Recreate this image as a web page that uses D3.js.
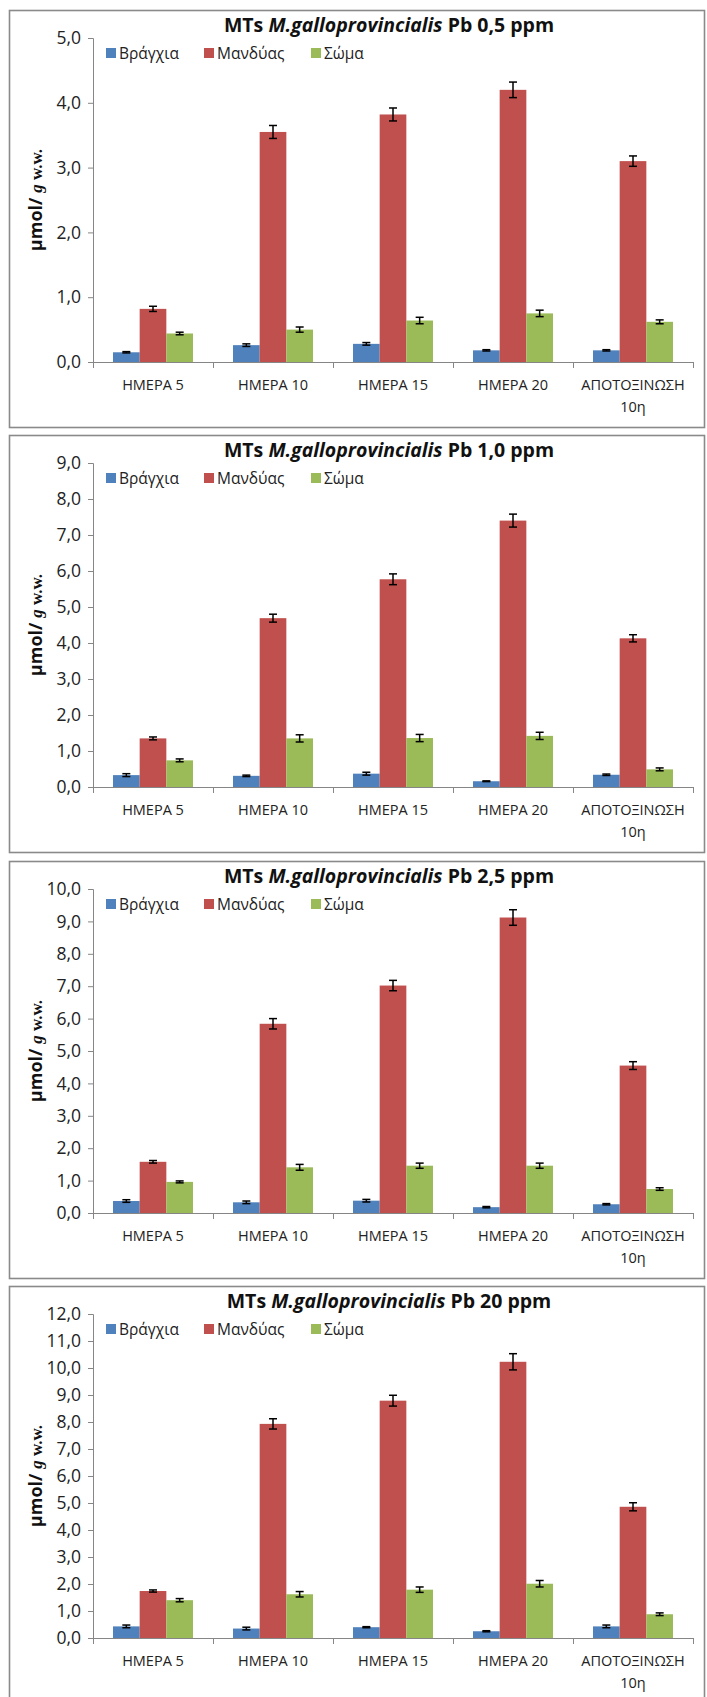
<!DOCTYPE html>
<html>
<head>
<meta charset="utf-8">
<script src="https://cdn.jsdelivr.net/npm/d3@7"></script>
<style>
  body { margin: 0; background: #fff; }
  svg { display: block; }
  .tick text { font-family: "Open Sans", "Noto Sans", sans-serif; fill: #222; }
</style>
</head>
<body>
<div id="chart"></div>
<script>
// categories and series
const categories = ['ΗΜΕΡΑ 5', 'ΗΜΕΡΑ 10', 'ΗΜΕΡΑ 15', 'ΗΜΕΡΑ 20', 'ΑΠΟΤΟΞΙΝΩΣΗ 10η'];
const seriesNames = ['Βράγχια', 'Μανδύας', 'Σώμα'];
const seriesColors = ['#4f81bd', '#c0504d', '#9bbb59'];

// one entry per panel
const concentrations = ['0,5', '1,0', '2,5', '20'];
const yMax = [5, 9, 10, 12];

const gills = [
  [0.15, 0.26, 0.28, 0.18, 0.18],
  [0.33, 0.31, 0.37, 0.16, 0.34],
  [0.37, 0.33, 0.38, 0.18, 0.27],
  [0.43, 0.35, 0.40, 0.25, 0.43]
];
const mantle = [
  [0.82, 3.55, 3.82, 4.20, 3.10],
  [1.35, 4.69, 5.77, 7.40, 4.13],
  [1.58, 5.84, 7.02, 9.12, 4.55],
  [1.74, 7.93, 8.79, 10.23, 4.86]
];
const body = [
  [0.44, 0.50, 0.64, 0.75, 0.62],
  [0.74, 1.35, 1.36, 1.42, 0.49],
  [0.96, 1.41, 1.46, 1.46, 0.74],
  [1.40, 1.62, 1.79, 2.01, 0.88]
];
const gillsErr = [
  [0.01, 0.02, 0.02, 0.01, 0.01],
  [0.04, 0.02, 0.04, 0.01, 0.02],
  [0.04, 0.04, 0.04, 0.02, 0.02],
  [0.05, 0.05, 0.02, 0.02, 0.05]
];
const mantleErr = [
  [0.04, 0.10, 0.10, 0.12, 0.08],
  [0.04, 0.11, 0.15, 0.18, 0.10],
  [0.04, 0.16, 0.16, 0.24, 0.12],
  [0.04, 0.19, 0.20, 0.30, 0.15]
];
const bodyErr = [
  [0.02, 0.04, 0.05, 0.05, 0.03],
  [0.04, 0.10, 0.10, 0.10, 0.04],
  [0.03, 0.09, 0.08, 0.08, 0.04],
  [0.06, 0.10, 0.10, 0.12, 0.05]
];

const W = 707, H = 1697;
const sans = '"Open Sans", "Noto Sans", sans-serif';

const svg = d3.select('#chart').append('svg')
  .attr('width', W).attr('height', H);

const panelPitch = 425.3, panelH = 417;
const plotLeft = 93, plotRight = 693;

concentrations.forEach((conc, i) => {
  const top = Math.round(10 + panelPitch * i);
  const g = svg.append('g');

  // frame
  g.append('rect')
    .attr('x', 9.5).attr('y', top + 0.5)
    .attr('width', 695).attr('height', panelH)
    .attr('fill', '#fff').attr('stroke', '#8a8a8a').attr('stroke-width', 1.6);

  const yTop = top + 28, yZero = top + 352;
  const y = d3.scaleLinear().domain([0, yMax[i]]).range([yZero, yTop]);
  const x0 = d3.scaleBand().domain(categories).range([plotLeft, plotRight]);
  const x1 = d3.scaleBand().domain(seriesNames).range([0, x0.bandwidth()])
    .paddingInner(0).paddingOuter(0.75);

  // y axis
  const yAxis = g.append('g')
    .attr('transform', `translate(${plotLeft},0)`)
    .call(d3.axisLeft(y).tickValues(d3.range(0, yMax[i] + 0.001, 1))
      .tickFormat(d => d3.format('.1f')(d).replace('.', ','))
      .tickSize(5).tickSizeOuter(5).tickPadding(7));
  yAxis.select('.domain').attr('stroke', '#868686');
  yAxis.selectAll('.tick line').attr('stroke', '#868686');
  yAxis.selectAll('.tick text').attr('font-size', 17.5);

  // x axis line + separators
  g.append('line')
    .attr('x1', plotLeft).attr('x2', plotRight)
    .attr('y1', yZero + 0.5).attr('y2', yZero + 0.5)
    .attr('stroke', '#868686');
  const seps = categories.map(c => x0(c)).concat([plotRight]);
  g.selectAll('.sep').data(seps).enter().append('line')
    .attr('x1', d => d + 0.5).attr('x2', d => d + 0.5)
    .attr('y1', yZero).attr('y2', yZero + 6)
    .attr('stroke', '#868686');

  // bars
  const groups = [gills[i], mantle[i], body[i]];
  const errs = [gillsErr[i], mantleErr[i], bodyErr[i]];
  const rows = [];
  categories.forEach((c, ci) => {
    seriesNames.forEach((s, si) => {
      rows.push({ c, s, si, v: groups[si][ci], e: errs[si][ci] });
    });
  });

  g.selectAll('.bar').data(rows).enter().append('rect')
    .attr('x', d => x0(d.c) + x1(d.s))
    .attr('y', d => y(d.v))
    .attr('width', x1.bandwidth())
    .attr('height', d => yZero - y(d.v))
    .attr('fill', d => seriesColors[d.si]);

  // error bars
  const eb = g.selectAll('.err').data(rows).enter().append('g')
    .attr('transform', d => `translate(${x0(d.c) + x1(d.s) + x1.bandwidth() / 2},0)`);
  eb.append('line')
    .attr('y1', d => y(d.v + d.e)).attr('y2', d => y(d.v - d.e))
    .attr('stroke', '#000').attr('stroke-width', 1.5);
  eb.append('line').attr('x1', -4).attr('x2', 4)
    .attr('y1', d => y(d.v + d.e)).attr('y2', d => y(d.v + d.e))
    .attr('stroke', '#000').attr('stroke-width', 1.5);
  eb.append('line').attr('x1', -4).attr('x2', 4)
    .attr('y1', d => y(d.v - d.e)).attr('y2', d => y(d.v - d.e))
    .attr('stroke', '#000').attr('stroke-width', 1.5);

  // category labels
  const lab = g.selectAll('.cat').data(categories).enter().append('text')
    .attr('x', d => x0(d) + x0.bandwidth() / 2)
    .attr('y', yZero + 28)
    .attr('text-anchor', 'middle')
    .attr('font-family', sans).attr('font-size', 14.5).attr('fill', '#222');
  lab.each(function (d) {
    const parts = d === 'ΑΠΟΤΟΞΙΝΩΣΗ 10η' ? ['ΑΠΟΤΟΞΙΝΩΣΗ', '10η'] : [d];
    const t = d3.select(this);
    parts.forEach((p, k) => {
      t.append('tspan').attr('x', x0(d) + x0.bandwidth() / 2)
        .attr('dy', k === 0 ? 0 : 22).text(p);
    });
  });

  // title
  const title = g.append('text')
    .attr('x', 389).attr('y', top + 22)
    .attr('text-anchor', 'middle')
    .attr('font-family', sans).attr('font-size', 19.5).attr('font-weight', 'bold')
    .attr('fill', '#111');
  title.append('tspan').text('MTs ');
  title.append('tspan').attr('font-style', 'italic').text('M.galloprovincialis');
  title.append('tspan').text(` Pb ${conc} ppm`);

  // legend
  const legX = [106, 204, 311];
  const leg = g.selectAll('.leg').data(seriesNames).enter().append('g')
    .attr('transform', (d, k) => `translate(${legX[k]},${top + 43})`);
  leg.append('rect').attr('x', 0).attr('y', -5).attr('width', 10).attr('height', 10)
    .attr('fill', (d, k) => seriesColors[k]);
  leg.append('text').attr('x', 13).attr('y', 5.5)
    .attr('font-family', sans).attr('font-size', 15.5).attr('fill', '#222')
    .text(d => d);

  // y label
  const yl = g.append('text')
    .attr('transform', `translate(42,${(yTop + yZero) / 2}) rotate(-90)`)
    .attr('text-anchor', 'middle')
    .attr('font-weight', 'bold').attr('fill', '#111');
  yl.append('tspan').attr('font-family', sans).attr('font-size', 18).text('μmol/ ');
  yl.append('tspan').attr('font-family', '"Liberation Serif", serif').attr('font-size', 17)
    .attr('font-style', 'italic').text('g');
  yl.append('tspan').attr('font-family', '"Liberation Serif", serif').attr('font-size', 17)
    .text(' w.w.');
});
</script>
</body>
</html>
